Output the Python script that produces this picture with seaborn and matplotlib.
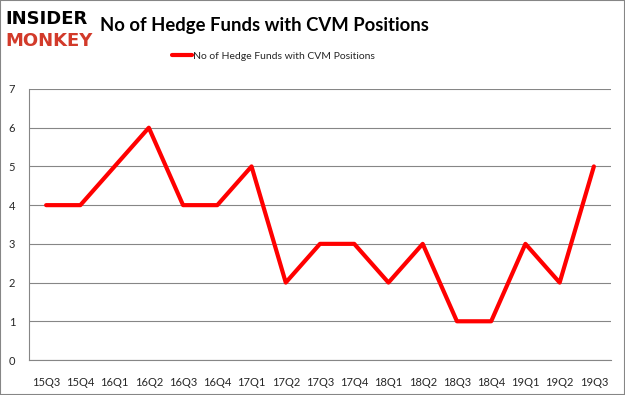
import matplotlib
matplotlib.use("Agg")
import matplotlib.pyplot as plt
import seaborn as sns
import pandas as pd
import numpy as np

quarters = ["15Q3", "15Q4", "16Q1", "16Q2", "16Q3", "16Q4", "17Q1", "17Q2", "17Q3",
            "17Q4", "18Q1", "18Q2", "18Q3", "18Q4", "19Q1", "19Q2", "19Q3"]
funds = [4, 4, 5, 6, 4, 4, 5, 2, 3, 3, 2, 3, 1, 1, 3, 2, 5]
series_name = "No of Hedge Funds with CVM Positions"

df = pd.DataFrame({"quarter": quarters, "funds": funds, "pos": np.arange(len(quarters))})

sns.set_style("white")
plt.rcParams['font.family'] = ['Lato', 'DejaVu Sans']

fig = plt.figure(figsize=(6.25, 3.95), dpi=100)
ax = fig.add_axes([0.0464, 0.0886, 0.9312, 0.6861])

sns.lineplot(data=df, x="pos", y="funds", color="#ff0000", linewidth=3,
             label=series_name, ax=ax)

ax.set_xlim(-0.5, len(quarters) - 0.5)
ax.set_ylim(0, 7)
ax.set_yticks(range(0, 8))
ax.set_xticks(df["pos"])
ax.set_xticklabels(quarters, fontsize=8)
ax.set_xticks(np.arange(-0.5, len(quarters), 1), minor=True)
ax.tick_params(axis="x", which="major", length=0, pad=12)
ax.tick_params(axis="x", which="minor", length=4, color="#868686", direction="out")
ax.tick_params(axis="y", length=0, labelsize=8, pad=10)
ax.grid(axis="y", color="#868686", linewidth=0.8)
ax.set_xlabel("")
ax.set_ylabel("")
for side in ["top", "right"]:
    ax.spines[side].set_visible(False)
for side in ["left", "bottom"]:
    ax.spines[side].set_color("#868686")
    ax.spines[side].set_linewidth(0.8)

leg = ax.legend(loc="center", bbox_to_anchor=(0.42, 1.12), frameon=False,
                fontsize=7.5, handlelength=2.0, handletextpad=0.1)

fig.text(0.008, 0.952, "INSIDER", fontsize=13, fontweight="bold", color="black",
         va="center", ha="left", family="DejaVu Sans")
fig.text(0.008, 0.897, "MONKEY", fontsize=13, fontweight="bold", color="#d23a2a",
         va="center", ha="left", family="DejaVu Sans")
fig.text(0.16, 0.935, series_name, fontsize=13.3, fontweight="bold", color="black",
         va="center", ha="left")

# outer border
fig.patches.append(plt.Rectangle((0, 0), 1, 1, transform=fig.transFigure,
                                 fill=False, edgecolor="#868686", linewidth=1.5))

fig.savefig("out.png", dpi=100)
